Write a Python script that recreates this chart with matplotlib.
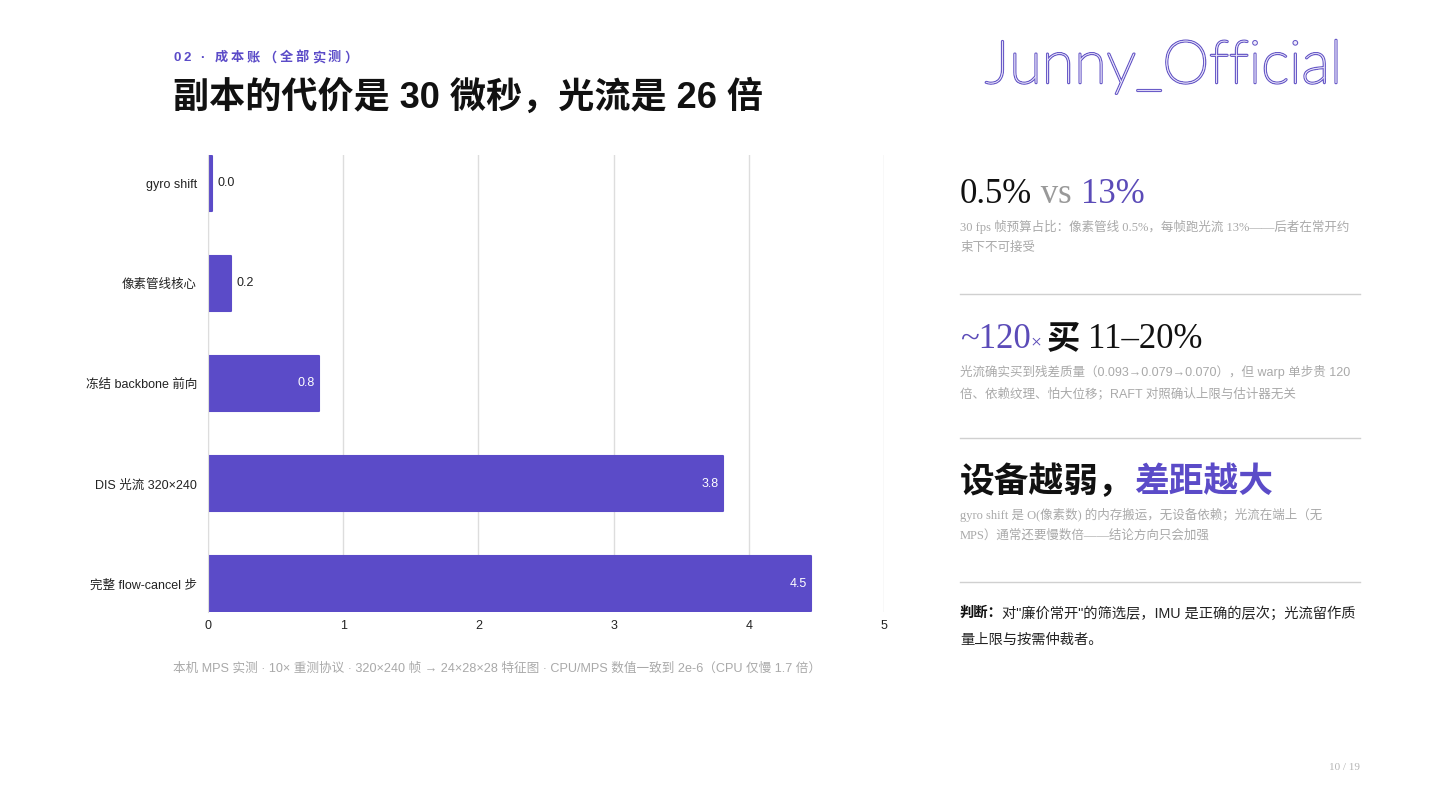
import matplotlib
matplotlib.use('Agg')
import matplotlib.pyplot as plt
import matplotlib.patheffects as pe

W, H = 1440, 810
PURPLE = '#5B4BC8'
GRAY = '#a9a9a9'
CJK = 'Noto Sans CJK SC'
SANS = ['Liberation Sans', CJK]
SERIF = ['Liberation Serif', CJK]

# data
categories = ['gyro shift', '像素管线核心', '冻结 backbone 前向', 'DIS 光流 320×240', '完整 flow-cancel 步']
cost_ms = [0.03, 0.17, 0.82, 3.81, 4.46]
value_labels = ['0.0', '0.2', '0.8', '3.8', '4.5']
xticks = [0, 1, 2, 3, 4, 5]

kicker = '02 · 成本账（全部实测）'
title = '副本的代价是 30 微秒，光流是 26 倍'
footer = '本机 MPS 实测 · 10× 重测协议 · 320×240 帧 → 24×28×28 特征图 · CPU/MPS 数值一致到 2e-6（CPU 仅慢 1.7 倍）'
note1 = ['30 fps 帧预算占比：像素管线 0.5%，每帧跑光流 13%——后者在常开约', '束下不可接受']
note2 = ['光流确实买到残差质量（0.093→0.079→0.070），但 warp 单步贵 120', '倍、依赖纹理、怕大位移；RAFT 对照确认上限与估计器无关']
note3 = ['gyro shift 是 O(像素数) 的内存搬运，无设备依赖；光流在端上（无', 'MPS）通常还要慢数倍——结论方向只会加强']
verdict = ['对"廉价常开"的筛选层，IMU 是正确的层次；光流留作质', '量上限与按需仲裁者。']

fig = plt.figure(figsize=(W/100, H/100), dpi=100)
fig.patch.set_facecolor('white')

def fx(x):
    return x / W

def fy(y):
    return 1 - y / H

# ---- chart
ax = fig.add_axes([fx(208), fy(612), fx(884) - fx(208), (612 - 155) / H])
ypos = list(range(len(categories)))
bars = ax.barh(ypos, cost_ms, height=0.55, color=PURPLE, edgecolor=PURPLE, linewidth=1.5)
for b in bars:
    b.set_joinstyle('round')
ax.set_xlim(0, 5)
ax.set_ylim(4.28, -0.28)
ax.set_xticks(xticks)
ax.set_xticklabels([str(t) for t in xticks], fontsize=9, family=SANS, color='#222222')
ax.set_yticks(ypos)
ax.set_yticklabels(categories, fontsize=9, family=SANS, color='#222222')
ax.tick_params(length=0, pad=8)
ax.tick_params(axis='x', pad=6)
ax.grid(axis='x', color='#dddddd', linewidth=1)
ax.set_axisbelow(True)
for s in ['top', 'right', 'bottom']:
    ax.spines[s].set_visible(False)
ax.spines['left'].set_color('#dddddd')

for i, (v, lab) in enumerate(zip(cost_ms, value_labels)):
    if v < 0.5:
        ax.annotate(lab, (v, i), xytext=(4, 0), textcoords='offset points',
                    va='center', ha='left', fontsize=9, family=SANS, color='#222222')
    else:
        ax.annotate(lab, (v, i), xytext=(-3, 0), textcoords='offset points',
                    va='center', ha='right', fontsize=9, family=SANS, color='white')

# ---- header
renderer = fig.canvas.get_renderer()

def seq(x, y, parts, gap=0, va='baseline'):
    # place text pieces one after another
    for s, kw in parts:
        t = fig.text(fx(x), fy(y), s, va=va, ha='left', **kw)
        bb = t.get_window_extent(renderer)
        x = bb.x1 + gap
    return x

seq(173, 58, [(c, dict(fontsize=9.5, family=SANS, color=PURPLE, fontweight='bold')) for c in kicker],
    gap=3.0, va='center')
fig.text(fx(173), fy(98), title, fontsize=26, family=SANS, fontweight='bold', color='#111111', va='center')

logo = fig.text(fx(985), fy(83), 'Junny_Official', fontsize=43, family=['Lato', 'DejaVu Sans'],
                fontweight='light', color='#eeeafb', va='baseline', ha='left')
logo.set_path_effects([pe.withStroke(linewidth=1.8, foreground='#6a5cc8'), pe.Normal()])

# ---- right panel
X0 = 960
seq(X0, 203, [('0.5%', dict(fontsize=25, family=SERIF, color='#111111')),
              (' vs ', dict(fontsize=25, family=SERIF, color='#999999')),
              ('13%', dict(fontsize=25, family=SERIF, color='#5B4BB8'))])
for i, line in enumerate(note1):
    fig.text(fx(X0), fy(227 + 21 * i), line, fontsize=9, family=SERIF, color=GRAY, va='center')
fig.add_artist(plt.Line2D([fx(X0), fx(1360)], [fy(294), fy(294)], color='#d0d0d0', lw=1))

seq(X0, 348, [('~120', dict(fontsize=25, family=SERIF, color='#5B4BB8')),
              ('× ', dict(fontsize=14, family=SERIF, color='#5B4BB8')),
              ('买 ', dict(fontsize=24, family=[CJK], color='#111111', fontweight='bold')),
              ('11–20%', dict(fontsize=25, family=SERIF, color='#111111'))])
for i, line in enumerate(note2):
    fig.text(fx(X0), fy(372 + 22 * i), line, fontsize=9, family=SANS, color=GRAY, va='center')
fig.add_artist(plt.Line2D([fx(X0), fx(1360)], [fy(438), fy(438)], color='#d0d0d0', lw=1))

seq(X0, 482, [('设备越弱，', dict(fontsize=25, family=[CJK], color='#111111', fontweight='bold')),
              ('差距越大', dict(fontsize=25, family=[CJK], color=PURPLE, fontweight='bold'))], va='center')
for i, line in enumerate(note3):
    fig.text(fx(X0), fy(515 + 21 * i), line, fontsize=9, family=SERIF, color=GRAY, va='center')
fig.add_artist(plt.Line2D([fx(X0), fx(1360)], [fy(582), fy(582)], color='#d0d0d0', lw=1))

seq(X0 - 1, 613, [('判断：', dict(fontsize=10.3, family=[CJK], color='#111111', fontweight='bold')),
                  (verdict[0], dict(fontsize=10.3, family=SANS, color='#222222'))], va='center')
fig.text(fx(X0), fy(640), verdict[1], fontsize=10.3, family=SANS, color='#222222', va='center')

# ---- footer
fig.text(fx(173), fy(669), footer, fontsize=9.1, family=SANS, color=GRAY, va='center')
fig.text(fx(1360), fy(768), '10 / 19', fontsize=8, family=SERIF, color='#b5b5b5', va='center', ha='right')

fig.savefig('out.png', dpi=100, facecolor='white')
